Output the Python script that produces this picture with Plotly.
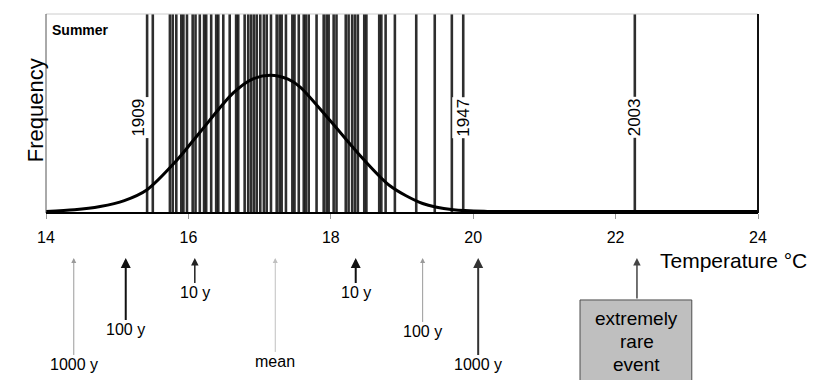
import plotly.graph_objects as go

# ---- data ----
# individual summer mean temperatures (deg C), one vertical line per year
summer_temps = [
    15.42, 15.50, 15.74, 15.78, 15.83, 15.90, 15.93, 15.98, 16.06, 16.10,
    16.16, 16.22, 16.25, 16.32, 16.39, 16.42, 16.49, 16.58, 16.67, 16.70,
    16.79, 16.84, 16.88, 16.92, 16.96, 17.01, 17.06, 17.10, 17.16, 17.24,
    17.28, 17.31, 17.37, 17.46, 17.49, 17.55, 17.62, 17.65, 17.69, 17.80,
    17.90, 17.94, 17.97, 18.04, 18.08, 18.21, 18.25, 18.30, 18.34, 18.38,
    18.47, 18.50, 18.68, 18.71, 18.77, 18.90, 19.20, 19.46, 19.70, 19.86,
    22.27,
]
labelled_years = ["1909", "1947", "2003"]
labelled_temps = [15.42, 19.86, 22.27]

# fitted frequency curve
curve_t = [14.0, 14.4, 14.76, 15.1, 15.42, 15.84, 16.16, 16.63, 16.9, 17.15,
           17.4, 17.57, 17.99, 18.37, 18.83, 19.29, 19.72, 20.2, 21.0, 24.0]
curve_f = [0.0, 0.008, 0.025, 0.055, 0.11, 0.26, 0.40, 0.60, 0.67, 0.69,
           0.67, 0.63, 0.46, 0.30, 0.13, 0.04, 0.008, 0.0, 0.0, 0.0]

# return-period markers below the axis
arrow_temps = [14.39, 15.12, 16.09, 17.22, 18.35, 19.29, 20.07]
arrow_labels = ["1000 y", "100 y", "10 y", "mean", "10 y", "100 y", "1000 y"]
rare_temp = 22.30
rare_label = ["extremely", "rare", "event"]

tick_vals = [14, 16, 18, 20, 22, 24]
tick_text = ["14", "16", "18", "20", "22", "24"]

FONT = "Liberation Sans, Arial, sans-serif"

fig = go.Figure()
fig.add_trace(go.Scatter(
    x=curve_t, y=curve_f, mode="lines",
    line=dict(color="black", width=3, shape="spline", smoothing=0.8),
    hoverinfo="skip", showlegend=False,
))

shapes = []
for t in summer_temps:
    shapes.append(dict(type="line", xref="x", yref="paper", x0=t, x1=t, y0=0, y1=1,
                       line=dict(color="rgba(0,0,0,0.82)", width=2.6), layer="below"))
# frame
shapes += [
    dict(type="line", xref="paper", yref="paper", x0=0, x1=1, y0=1, y1=1,
         line=dict(color="#cccccc", width=1)),
    dict(type="line", xref="paper", yref="paper", x0=0, x1=0, y0=0, y1=1,
         line=dict(color="#555555", width=1)),
    dict(type="line", xref="paper", yref="paper", x0=1, x1=1, y0=0, y1=1,
         line=dict(color="#111111", width=2)),
    dict(type="line", xref="paper", yref="paper", x0=0, x1=1, y0=0, y1=0,
         line=dict(color="black", width=2)),
]
# box for the extremely rare event
shapes.append(dict(type="rect", xref="paper", yref="paper", x0=0.75, x1=0.907,
                   y0=-0.437, y1=-0.95, fillcolor="#bfbfbf",
                   line=dict(color="#4d4d4d", width=1)))

annotations = []
for yr, t in zip(labelled_years, labelled_temps):
    annotations.append(dict(
        x=t, y=0.48, xref="x", yref="paper", text=yr, textangle=-90,
        showarrow=False, bgcolor="white", borderpad=1, yanchor="middle",
        xshift=-9 if yr == "1909" else 0,
        font=dict(family=FONT, size=17, color="black"),
    ))

arrow_styles = [("#9a9a9a", 1, 107), ("#111111", 2, 72), ("#222222", 1.5, 35),
                ("#c0c0c0", 1, 104), ("#111111", 2, 35), ("#9a9a9a", 1, 74),
                ("#333333", 2, 107)]
for t, lab, (col, w, ay) in zip(arrow_temps, arrow_labels, arrow_styles):
    annotations.append(dict(
        x=t, y=-0.226, xref="x", yref="paper", text=lab, showarrow=True,
        ax=0, ay=ay, arrowhead=2, arrowsize=1, arrowwidth=w, arrowcolor=col,
        standoff=0, font=dict(family=FONT, size=16, color="black"),
    ))
annotations.append(dict(
    x=rare_temp, y=-0.226, xref="x", yref="paper", text="", showarrow=True,
    ax=0, ay=42, arrowhead=2, arrowsize=1, arrowwidth=1.5, arrowcolor="#444444",
))
for i, line in enumerate(rare_label):
    annotations.append(dict(
        x=rare_temp, y=-0.528 - 0.116 * i, xref="x", yref="paper", text=line,
        showarrow=False, yanchor="middle",
        font=dict(family=FONT, size=19, color="black"),
    ))

annotations += [
    dict(x=0.86, y=-0.24, xref="paper", yref="paper", text="Temperature °C",
         xanchor="left", yanchor="middle", showarrow=False,
         font=dict(family=FONT, size=21, color="black")),
    dict(x=-0.034, y=0.518, xref="paper", yref="paper", text="Frequency",
         textangle=-90, showarrow=False, yanchor="middle",
         font=dict(family=FONT, size=22, color="black")),
    dict(x=0.006, y=0.92, xref="paper", yref="paper", text="<b>Summer</b>",
         xanchor="left", yanchor="middle", showarrow=False,
         font=dict(family=FONT, size=14, color="black")),
]

# page body adds an 8 px offset, so the figure is 8 px smaller than the window
fig.update_layout(
    width=807, height=372,
    margin=dict(l=38, r=57, t=6, b=167, autoexpand=False),
    paper_bgcolor="white", plot_bgcolor="white",
    shapes=shapes, annotations=annotations,
    xaxis=dict(range=[14, 24], tickvals=tick_vals, ticktext=tick_text,
               showgrid=False, zeroline=False, showline=False, automargin=False,
               ticks="outside", ticklen=5, tickcolor="#999999",
               ticklabelstandoff=5,
               tickfont=dict(family=FONT, size=16, color="black")),
    yaxis=dict(range=[-0.008, 1.0], showgrid=False, zeroline=False, automargin=False,
               showticklabels=False, ticks="", showline=False),
)

fig.write_html("out.html")
